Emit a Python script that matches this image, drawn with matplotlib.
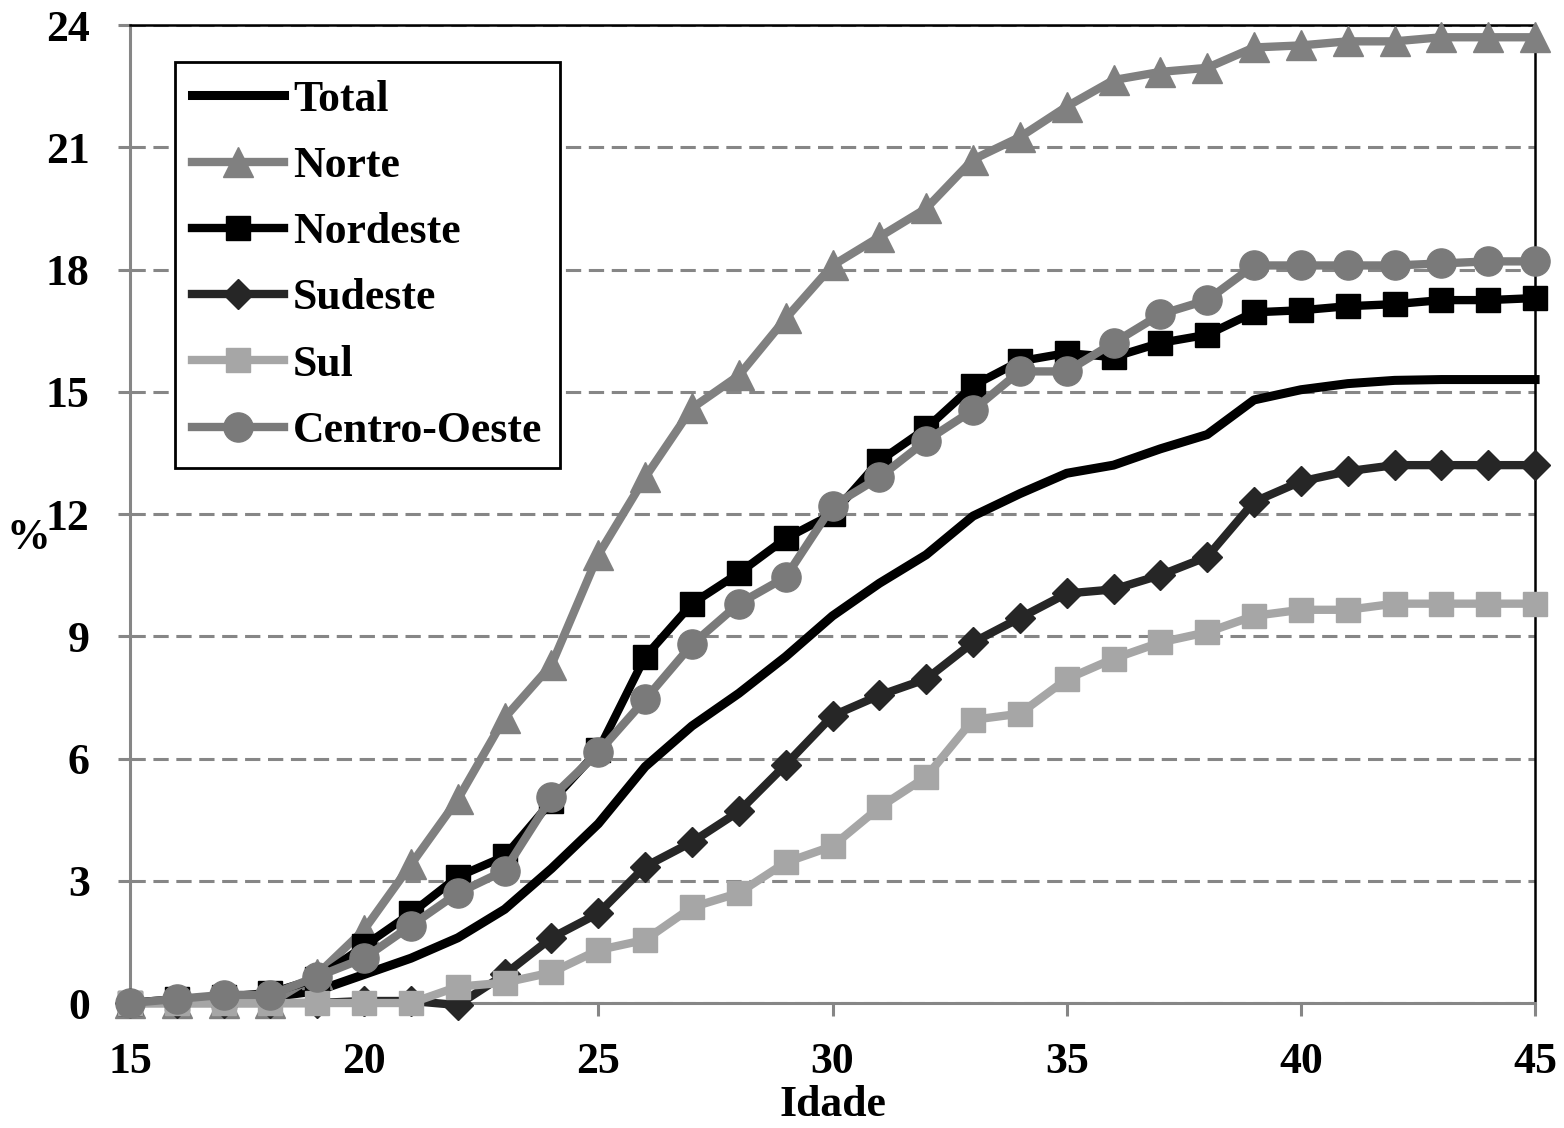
import matplotlib
matplotlib.use("Agg")
import matplotlib.pyplot as plt

plt.rcParams.update({'font.family': 'Liberation Serif', 'font.weight': 'bold', 'font.size': 31.5})

# ages and cumulative % per region
idade = list(range(15, 46))
total = [0.0, 0.05, 0.1, 0.15, 0.3, 0.7, 1.1, 1.6, 2.3, 3.3, 4.4, 5.8, 6.8, 7.6, 8.5, 9.5,
         10.3, 11.0, 11.95, 12.5, 13.0, 13.2, 13.6, 13.95, 14.8, 15.05, 15.2, 15.28, 15.3, 15.3, 15.3]
norte = [0.0, 0.0, 0.0, 0.0, 0.7, 1.8, 3.4, 5.0, 7.0, 8.3, 11.0, 12.9, 14.6, 15.4, 16.8, 18.1,
         18.8, 19.5, 20.7, 21.25, 22.0, 22.65, 22.85, 22.95, 23.45, 23.5, 23.6, 23.6, 23.7, 23.7, 23.7]
nordeste = [0.0, 0.1, 0.15, 0.25, 0.6, 1.4, 2.2, 3.1, 3.6, 4.95, 6.2, 8.5, 9.8, 10.55, 11.4, 12.0,
            13.3, 14.1, 15.15, 15.75, 15.95, 15.85, 16.2, 16.4, 16.95, 17.0, 17.1, 17.15, 17.25, 17.25, 17.3]
sudeste = [0.0, 0.0, 0.0, 0.0, 0.0, 0.05, 0.05, -0.05, 0.7, 1.6, 2.2, 3.35, 3.95, 4.7, 5.85, 7.05,
           7.55, 7.95, 8.85, 9.45, 10.05, 10.15, 10.5, 10.95, 12.3, 12.8, 13.05, 13.2, 13.2, 13.2, 13.2]
sul = [0.0, 0.0, 0.0, 0.0, 0.0, 0.0, 0.0, 0.4, 0.5, 0.75, 1.3, 1.55, 2.35, 2.7, 3.45, 3.85,
       4.8, 5.55, 6.95, 7.1, 7.95, 8.45, 8.85, 9.1, 9.5, 9.65, 9.65, 9.8, 9.8, 9.8, 9.8]
centro_oeste = [0.0, 0.1, 0.2, 0.2, 0.65, 1.1, 1.9, 2.7, 3.25, 5.05, 6.15, 7.45, 8.8, 9.8, 10.45, 12.2,
                12.9, 13.8, 14.55, 15.5, 15.5, 16.2, 16.9, 17.25, 18.1, 18.1, 18.1, 18.1, 18.15, 18.2, 18.2]

fig = plt.figure(figsize=(15.64, 11.28), dpi=100)
ax = fig.add_axes([0.0831, 0.1108, 0.8984, 0.8670])

lw = 6
ax.plot(idade, total, color='black', lw=6.5, label='Total', solid_joinstyle='round', zorder=3, clip_on=False)
ax.plot(idade, norte, color='#808080', lw=lw, marker='^', ms=21, label='Norte', zorder=3, clip_on=False)
ax.plot(idade, nordeste, color='black', lw=lw, marker='s', ms=17, label='Nordeste', zorder=3, clip_on=False)
ax.plot(idade, sudeste, color='#262626', lw=lw, marker='D', ms=15, label='Sudeste', zorder=3, clip_on=False)
ax.plot(idade, sul, color='#a6a6a6', lw=lw, marker='s', ms=17, label='Sul', zorder=3, clip_on=False)
ax.plot(idade, centro_oeste, color='#7a7a7a', lw=lw, marker='o', ms=21, label='Centro-Oeste', zorder=3, clip_on=False)

ax.set_xlim(15, 45)
ax.set_ylim(0, 24)
ax.set_xticks(range(15, 46, 5))
ax.set_yticks(range(0, 25, 3))
ax.yaxis.grid(True, color='#868686', lw=2.2, linestyle=(0, (5, 2.5)))
ax.set_axisbelow(True)

for s in ['left', 'bottom']:
    ax.spines[s].set_color('#868686')
    ax.spines[s].set_linewidth(2.2)
for s in ['top', 'right']:
    ax.spines[s].set_color('black')
    ax.spines[s].set_linewidth(1.8)
ax.tick_params(axis='both', color='#868686', width=2.2, length=9)
ax.tick_params(axis='x', pad=19)
ax.tick_params(axis='y', pad=20)
for lab in ax.get_xticklabels() + ax.get_yticklabels():
    lab.set_fontweight('bold')

ax.set_xlabel('Idade', fontweight='bold', labelpad=2)
ax.set_ylabel('%', rotation=0, fontweight='bold', va='center')
ax.yaxis.set_label_coords(-0.072, 0.475)

leg = ax.legend(loc='upper left', bbox_to_anchor=(0.032, 0.962), borderaxespad=0,
                fancybox=False, edgecolor='black', handlelength=2.1, handletextpad=0.2,
                labelspacing=0.6, borderpad=0.4, framealpha=1)
leg.get_frame().set_linewidth(2)

fig.savefig('out.png', dpi=100)
